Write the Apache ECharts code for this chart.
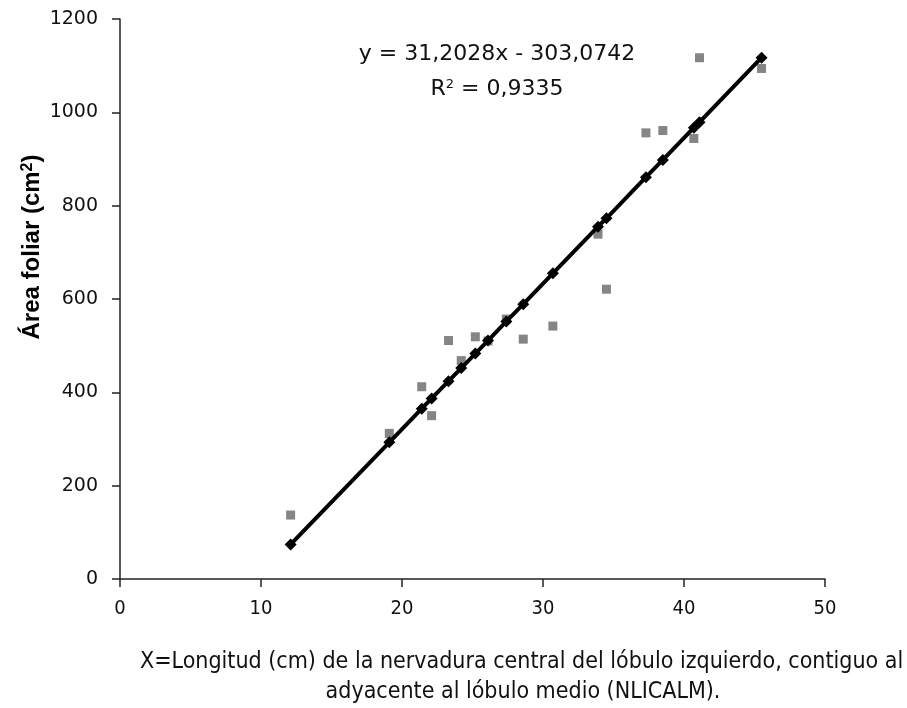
<!DOCTYPE html>
<html>
<head>
<meta charset="utf-8">
<script src="https://cdn.jsdelivr.net/npm/echarts@6/dist/echarts.min.js"></script>
<style>html,body{margin:0;padding:0;background:#fff;}#chart{width:907px;height:708px;}</style>
</head>
<body>
<div id="chart"></div>
<script>
// Longitud (cm) NLICALM
var xValues = [12.1, 19.1, 21.4, 22.1, 23.3, 24.2, 25.2, 26.1, 27.4, 28.6, 30.7, 33.9, 34.5, 37.3, 38.5, 40.7, 41.1, 45.5];
// Área foliar observada (cm²)
var observed = [137, 312, 412, 350, 511, 468, 519, 510, 557, 514, 542, 739, 621, 956, 961, 944, 1117, 1094];
// Área foliar estimada (línea de regresión)
var predicted = [74, 293, 365, 387, 424, 452, 483, 511, 552, 589, 655, 755, 773, 861, 898, 967, 979, 1117];
var equationText = 'y = 31,2028x - 303,0742';
var r2Base = 'R';
var r2Rest = ' = 0,9335';
var xTitle1 = 'X=Longitud (cm) de la nervadura central del lóbulo izquierdo, contiguo al';
var xTitle2 = 'adyacente al lóbulo medio (NLICALM).';
var yTitleMain = 'Área foliar (cm';
var yTitleEnd = ')';

var obsData = xValues.map(function (x, i) { return [x, observed[i]]; });
var predData = xValues.map(function (x, i) { return [x, predicted[i]]; });

var chart = echarts.init(document.getElementById('chart'));
chart.setOption({
  animation: false,
  backgroundColor: '#fff',
  grid: { left: 120, right: 82, top: 19, bottom: 129 },
  xAxis: {
    type: 'value', min: 0, max: 50, interval: 10,
    axisLine: { show: true, lineStyle: { color: '#222', width: 1.5 } },
    axisTick: { show: true, inside: false, length: 8, lineStyle: { color: '#222', width: 1.5 } },
    axisLabel: { margin: 20, fontSize: 20, color: '#111', fontFamily: 'DejaVu Sans Condensed' },
    splitLine: { show: false }
  },
  yAxis: {
    type: 'value', min: 0, max: 1200, interval: 200,
    axisLine: { show: true, lineStyle: { color: '#222', width: 1.5 } },
    axisTick: { show: true, inside: false, length: 8, lineStyle: { color: '#222', width: 1.5 } },
    axisLabel: { margin: 22, fontSize: 19, color: '#111', fontFamily: 'DejaVu Sans', formatter: function (v) { return String(v); } },
    splitLine: { show: false }
  },
  graphic: [
    { type: 'text', x: 497, y: 54, style: { text: equationText, font: '22px "DejaVu Sans"', fill: '#111', textAlign: 'center', textVerticalAlign: 'middle' } },
    { type: 'text', x: 497, y: 89, style: {
        text: '{a|' + r2Base + '}{s|2}{a|' + r2Rest + '}',
        textAlign: 'center', textVerticalAlign: 'middle',
        rich: {
          a: { font: '22px "DejaVu Sans"', fill: '#111', color: '#111' },
          s: { font: '13px "DejaVu Sans"', fill: '#111', color: '#111', verticalAlign: 'top', padding: [0, 0, 8, 0] }
        }
      } },
    { type: 'text', x: 140, y: 662, style: { text: xTitle1, font: '23px "DejaVu Sans Condensed"', fill: '#111', textAlign: 'left', textVerticalAlign: 'middle' } },
    { type: 'text', x: 523, y: 692, style: { text: xTitle2, font: '23px "DejaVu Sans Condensed"', fill: '#111', textAlign: 'center', textVerticalAlign: 'middle' } },
    { type: 'text', x: 32, y: 247, rotation: Math.PI / 2, style: {
        text: '{a|' + yTitleMain + '}{s|2}{a|' + yTitleEnd + '}',
        textAlign: 'center', textVerticalAlign: 'middle',
        rich: {
          a: { font: 'bold 24px "Liberation Sans"', color: '#111' },
          s: { font: 'bold 16px "Liberation Sans"', color: '#111', verticalAlign: 'top', padding: [0, 0, 8, 0] }
        }
      } }
  ],
  series: [
    {
      type: 'scatter', data: obsData, symbol: 'rect', symbolSize: 9,
      itemStyle: { color: '#666666' }, z: 2
    },
    {
      type: 'line', data: predData, symbol: 'diamond', symbolSize: 12,
      itemStyle: { color: '#000' }, lineStyle: { color: '#000', width: 4 }, z: 3
    }
  ]
});
</script>
</body>
</html>
